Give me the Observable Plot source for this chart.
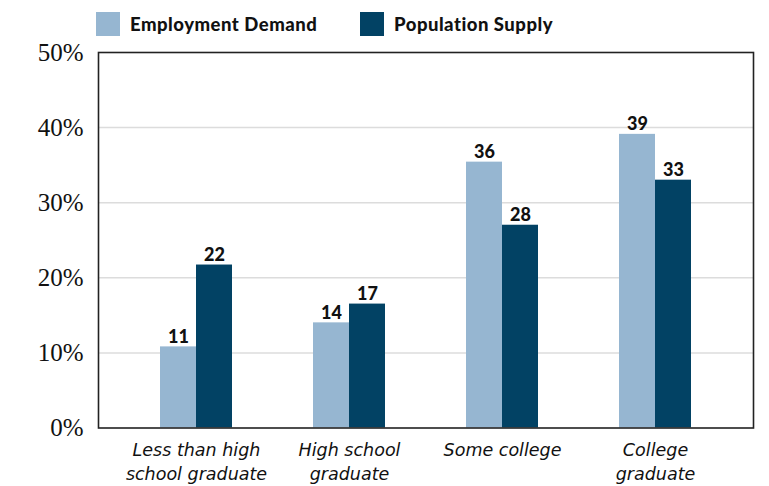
<!DOCTYPE html>
<html>
<head>
<meta charset="utf-8">
<script src="https://cdn.jsdelivr.net/npm/d3@7"></script>
<script src="https://cdn.jsdelivr.net/npm/@observablehq/plot@0.6"></script>
<style>
  html, body { margin: 0; padding: 0; background: #fff; }
  #wrap { width: 769px; height: 486px; position: relative; overflow: hidden; }
  #legend { position: relative; height: 42px; width: 769px; font-family: Lato, "Open Sans", sans-serif; font-weight: 900; font-size: 18.5px; letter-spacing: 0.5px; color: #111; }
  .item { position: absolute; top: 12px; display: flex; align-items: center; height: 24px; }
  .sw { width: 24px; height: 24px; margin-right: 10px; }
  #chart svg { display: block; }
</style>
</head>
<body>
<div id="wrap">
  <div id="legend"></div>
  <div id="chart"></div>
</div>
<script>
const categories = ["Less than high school graduate", "High school graduate", "Some college", "College graduate"];
const tickLabels = ["Less than high\nschool graduate", "High school\ngraduate", "Some college", "College\ngraduate"];
const seriesNames = ["Employment Demand", "Population Supply"];
const seriesColors = ["#96b6d1", "#024264"];
const demand = [10.8, 14.0, 35.4, 39.1];
const supply = [21.7, 16.5, 27.0, 33.0];
const demandLabels = ["11", "14", "36", "39"];
const supplyLabels = ["22", "17", "28", "33"];
const yTicks = [0, 10, 20, 30, 40, 50];
const gridTicks = [10, 20, 30, 40];

// legend
const legend = document.getElementById("legend");
const legendX = [96, 360];
seriesNames.forEach((name, i) => {
  const it = document.createElement("div");
  it.className = "item";
  it.style.left = legendX[i] + "px";
  it.innerHTML = `<div class="sw" style="background:${seriesColors[i]}"></div><span>${name}</span>`;
  legend.appendChild(it);
});

const demandData = categories.map((c, i) => ({category: c, value: demand[i], label: demandLabels[i]}));
const supplyData = categories.map((c, i) => ({category: c, value: supply[i], label: supplyLabels[i]}));
const labelMap = new Map(categories.map((c, i) => [c, tickLabels[i]]));

const half = 36;
const labelFont = {fontFamily: "Lato, 'Open Sans', sans-serif", fontWeight: 900, fontSize: 18, fill: "#111"};
const plot = Plot.plot({
  width: 769,
  height: 444,
  marginLeft: 98,
  marginRight: 16,
  marginTop: 10,
  marginBottom: 58.5,
  style: {background: "#fff", overflow: "visible"},
  x: {domain: categories, paddingInner: 81 / 153, paddingOuter: 62 / 153, align: 0.5},
  y: {domain: [0, 50]},
  marks: [
    Plot.ruleY(gridTicks, {stroke: "#dcdcdc", strokeWidth: 1.5}),
    Plot.barY(demandData, {x: "category", y: "value", fill: seriesColors[0], insetRight: half}),
    Plot.barY(supplyData, {x: "category", y: "value", fill: seriesColors[1], insetLeft: half}),
    Plot.text(demandData, {x: "category", y: "value", text: "label", dx: -half / 2, dy: -4, lineAnchor: "bottom", ...labelFont}),
    Plot.text(supplyData, {x: "category", y: "value", text: "label", dx: half / 2, dy: -4, lineAnchor: "bottom", ...labelFont}),
    Plot.axisY({ticks: yTicks, tickFormat: d => d + "%", tickSize: 0, tickPadding: 15,
      fontFamily: "'Liberation Serif', 'DejaVu Serif', serif", fontSize: 25, fill: "#111", label: null}),
    Plot.axisX({tickFormat: d => labelMap.get(d), tickSize: 0, tickPadding: 12, lineHeight: 1.32,
      fontFamily: "'DejaVu Sans', sans-serif", fontStyle: "oblique", fontSize: 17.5, fill: "#111", label: null}),
    Plot.frame({stroke: "#222", strokeWidth: 1.6})
  ]
});
document.getElementById("chart").appendChild(plot);
</script>
</body>
</html>
